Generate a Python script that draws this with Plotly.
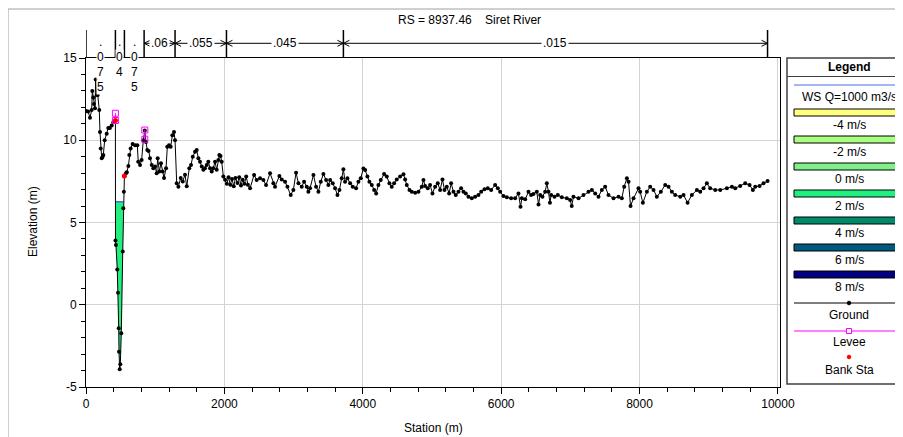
import numpy as np
import plotly.graph_objects as go

# Perfil del terreno (estación m, elevación m)
ground_sta = [0, 30, 58, 82, 91, 105, 115, 130, 140, 155, 170, 192, 202, 213, 227, 240, 250, 270, 299, 322,
              345, 371, 395, 425, 426, 433, 452, 463, 473, 477, 487, 496, 510, 531, 539, 547, 555, 578, 590, 612,
              626, 645, 674, 708, 742, 755, 781, 804, 828, 850, 867, 886, 904, 925, 950, 973, 998, 1022, 1036, 1060,
              1084, 1109, 1128, 1157, 1175, 1200, 1224, 1248, 1272, 1287, 1311, 1335, 1369, 1398, 1431, 1456, 1493, 1518, 1543, 1576,
              1600, 1624, 1648, 1673, 1696, 1720, 1745, 1768, 1793, 1817, 1840, 1865, 1889, 1913, 1927, 1944, 1961, 1985, 2010, 2035,
              2060, 2085, 2110, 2135, 2160, 2190, 2215, 2240, 2265, 2290, 2315, 2340, 2371, 2429, 2467, 2516, 2564, 2602, 2660, 2708,
              2732, 2795, 2829, 2877, 2911, 2959, 2997, 3036, 3070, 3118, 3152, 3190, 3214, 3238, 3287, 3325, 3359, 3393, 3431, 3470,
              3503, 3528, 3566, 3600, 3634, 3663, 3696, 3720, 3744, 3778, 3817, 3855, 3903, 3937, 3971, 4009, 4034, 4067, 4096, 4130,
              4164, 4193, 4226, 4260, 4308, 4347, 4385, 4419, 4453, 4491, 4540, 4588, 4612, 4636, 4675, 4708, 4757, 4805, 4853, 4877,
              4901, 4940, 4973, 5007, 5046, 5084, 5118, 5152, 5181, 5214, 5248, 5277, 5311, 5344, 5383, 5421, 5455, 5489, 5527, 5576,
              5624, 5672, 5711, 5759, 5807, 5855, 5913, 5952, 5985, 6033, 6082, 6144, 6202, 6250, 6280, 6299, 6347, 6395, 6433, 6467,
              6515, 6540, 6564, 6597, 6636, 6660, 6684, 6705, 6723, 6771, 6819, 6877, 6949, 6997, 7020, 7045, 7118, 7190, 7262, 7311,
              7359, 7407, 7455, 7503, 7551, 7624, 7696, 7744, 7778, 7817, 7841, 7870, 7913, 7985, 8009, 8048, 8106, 8154, 8202, 8250,
              8308, 8371, 8419, 8467, 8515, 8588, 8636, 8694, 8756, 8829, 8877, 8925, 8973, 9021, 9094, 9166, 9262, 9335, 9383, 9455,
              9527, 9590, 9638, 9672, 9735, 9792, 9850]
ground_elev = [11.78, 11.75, 11.37, 11.84, 13.0, 12.6, 12.2, 11.95, 13.7, 12.75, 12.75, 11.84, 10.5, 9.5, 8.9, 9.0, 9.1, 10.0, 10.4, 10.75,
               10.75, 10.9, 11.1, 11.2, 3.9, 3.63, 2.15, 0.73, -1.43, -2.85, -3.92, -3.62, -1.74, 3.23, 5.86, 6.87, 7.83, 8.0, 8.05, 8.43,
               9.1, 9.5, 9.77, 9.7, 9.7, 8.7, 8.5, 8.8, 10.0, 10.6, 9.9, 9.4, 9.35, 8.9, 8.5, 8.3, 8.4, 8.0, 8.9, 8.1,
               8.6, 8.1, 7.7, 8.3, 9.6, 9.7, 9.6, 10.3, 10.5, 10.0, 7.38, 7.18, 7.7, 7.5, 7.9, 7.2, 8.3, 8.5, 9.0, 9.3,
               9.4, 8.9, 8.7, 8.4, 8.2, 8.3, 8.5, 8.7, 8.3, 8.1, 8.3, 8.7, 8.2, 8.8, 9.1, 9.05, 8.7, 7.8, 7.6, 7.35,
               7.75, 7.3, 7.65, 7.2, 7.7, 7.4, 7.75, 7.25, 7.6, 7.35, 7.8, 7.3, 7.08, 7.89, 7.58, 7.69, 7.58, 7.28, 7.99, 7.38,
               7.18, 7.83, 7.62, 7.48, 7.18, 6.67, 6.98, 8.03, 7.38, 7.18, 7.48, 7.18, 6.87, 7.08, 7.89, 7.18, 6.87, 7.48, 7.95, 7.58,
               7.28, 7.58, 7.38, 7.08, 6.67, 6.98, 7.69, 8.23, 7.48, 7.69, 7.38, 7.18, 7.08, 7.48, 7.69, 8.29, 8.19, 7.79, 7.48, 7.28,
               6.98, 6.77, 7.28, 7.58, 7.95, 7.79, 7.38, 7.18, 7.38, 7.62, 7.79, 7.93, 7.62, 7.28, 6.98, 6.87, 6.81, 6.87, 7.18, 7.58,
               7.22, 7.08, 7.28, 6.77, 7.18, 7.38, 6.98, 7.62, 6.98, 7.18, 6.77, 7.38, 6.87, 6.67, 6.87, 7.08, 6.87, 6.77, 6.57, 6.47,
               6.57, 6.67, 6.87, 7.02, 7.08, 6.98, 7.28, 7.08, 6.87, 6.61, 6.53, 6.47, 6.47, 6.77, 5.95, 6.47, 6.41, 6.87, 6.67, 6.73,
               6.87, 6.1, 6.67, 6.57, 6.87, 7.38, 6.87, 6.2, 6.67, 6.57, 6.67, 6.53, 6.47, 6.37, 6.0, 6.57, 6.47, 6.67, 6.87, 6.98,
               6.77, 6.57, 6.98, 7.18, 6.67, 6.47, 6.57, 6.47, 7.18, 7.69, 7.48, 6.0, 6.47, 7.08, 6.87, 6.2, 6.87, 7.18, 6.98, 6.57,
               6.87, 7.28, 7.18, 6.87, 6.67, 6.57, 6.67, 6.2, 6.67, 6.98, 6.87, 7.08, 7.38, 7.08, 6.98, 6.98, 7.08, 7.18, 7.08, 7.22,
               7.38, 7.28, 6.98, 7.18, 7.22, 7.38, 7.52]

ws_elev = 6.26
bank_sta = [425, 555]
bank_elev = [11.2, 7.83]
levee_sta = [425, 425, None, 850, 850]
levee_elev = [11.2, 11.64, None, 10.06, 10.62]

# Coeficientes de Manning
n_sta = [0, 425, 555, 840, 1287, 2030, 3720, 9850]
n_val = ['.075', '.04', '.075', '.06', '.055', '.045', '.015']

velocity_labels = ['-4 m/s', '-2 m/s', '0 m/s', '2 m/s', '4 m/s', '6 m/s', '8 m/s']
velocity_colors = ['#FFFF80', '#A8FF80', '#80F088', '#20F080', '#008A6A', '#005A80', '#000080']

x_ticks = [0, 2000, 4000, 6000, 8000, 10000]
x_ticktext = ['0', '2000', '4000', '6000', '8000', '10000']
y_ticks = [-5, 0, 5, 10, 15]
y_ticktext = ['-5', '0', '5', '10', '15']

FONT = 'Arial, Liberation Sans, sans-serif'
OFF = 8                     # margen del body de la página
W, H = 903 - OFF, 437 - OFF
L, R, T, B = 86, 780, 58, 387   # área del gráfico en la pantalla
X_MAX = 10030


def px_x(px):
    return (px - L) / (R - L)


def px_y(py):
    return (B - py) / (B - T)


px_per_m = (R - L) / X_MAX

# Área mojada del cauce: puntos bajo la lámina de agua + cruces
sta = np.array(ground_sta, dtype=float)
el = np.array(ground_elev, dtype=float)
i0 = int(np.searchsorted(sta, bank_sta[0]))
i1 = int(np.searchsorted(sta, bank_sta[1]))
poly_x, poly_y = [], []
for i in range(i0, i1):
    a, b = el[i], el[i + 1]
    if a <= ws_elev:
        poly_x.append(sta[i]); poly_y.append(a)
    if (a - ws_elev) * (b - ws_elev) < 0:
        xc = sta[i] + (ws_elev - a) / (b - a) * (sta[i + 1] - sta[i])
        poly_x.append(xc); poly_y.append(ws_elev)
ws_x = [min(x for x, y in zip(poly_x, poly_y) if y == ws_elev), max(x for x, y in zip(poly_x, poly_y) if y == ws_elev)]
poly_x.append(poly_x[0]); poly_y.append(poly_y[0])

fig = go.Figure()
fig.add_trace(go.Scatter(x=poly_x, y=poly_y, fill='toself', fillcolor='#20F080', mode='lines',
                         line=dict(width=0), hoverinfo='skip'))
fig.add_trace(go.Scatter(x=ws_x, y=[ws_elev, ws_elev], mode='lines', line=dict(color='#4A6CE0', width=1.5)))
fig.add_trace(go.Scatter(x=ground_sta, y=ground_elev, mode='lines+markers',
                         line=dict(color='black', width=1), marker=dict(color='black', size=4)))
fig.add_trace(go.Scatter(x=levee_sta, y=levee_elev, mode='lines+markers',
                         line=dict(color='#FF00FF', width=1),
                         marker=dict(symbol='square-open', color='#FF00FF', size=6, line=dict(width=1))))
fig.add_trace(go.Scatter(x=bank_sta, y=bank_elev, mode='markers', marker=dict(color='#FF0000', size=5)))

shapes = []
annotations = []


def label(text, px, py, size=12, **kw):
    annotations.append(dict(x=px_x(px), y=px_y(py), xref='paper', yref='paper', text=text, showarrow=False,
                            xanchor='center', yanchor='middle',
                            font=dict(size=size, color='black', family=FONT), **kw))


# marco exterior
shapes.append(dict(type='rect', xref='paper', yref='paper', x0=px_x(8), x1=px_x(1000), y0=px_y(600), y1=px_y(9),
                   line=dict(color='#A0A0A0', width=1)))

# Manning n
y_bar0, y_bar1 = px_y(58), px_y(30)
y_arrow = px_y(43.3)
for s in n_sta:
    shapes.append(dict(type='line', xref='x', yref='paper', x0=s, x1=s, y0=y_bar0, y1=y_bar1,
                       line=dict(color='black', width=1.5)))
for i, n in enumerate(n_val):
    s0, s1 = n_sta[i], n_sta[i + 1]
    mid = (s0 + s1) / 2
    if len(n) * 6.5 + 6 > (s1 - s0) * px_per_m:
        for k, ch in enumerate(n):
            annotations.append(dict(x=mid, y=px_y(42.3 + 15 * k), xref='x', yref='paper', text=ch,
                                    showarrow=False, bgcolor='white', borderpad=0,
                                    xanchor='center', yanchor='middle',
                                    font=dict(size=12, color='black', family=FONT)))
    else:
        shapes.append(dict(type='line', xref='x', yref='paper', x0=s0, x1=s1, y0=y_arrow, y1=y_arrow,
                           line=dict(color='black', width=1)))
        annotations.append(dict(x=mid, y=y_arrow, xref='x', yref='paper', text=n, showarrow=False,
                                xanchor='center', yanchor='middle',
                                bgcolor='white', borderpad=1, font=dict(size=12, color='black', family=FONT)))
        for s, p in [(s0, 'M 6,3 L 0,0 L 6,-3'), (s1, 'M -6,3 L 0,0 L -6,-3')]:
            shapes.append(dict(type='path', xref='x', yref='paper', xsizemode='pixel', ysizemode='pixel',
                               xanchor=s, yanchor=y_arrow, path=p, line=dict(color='black', width=1)))

# título y ejes
label('RS = 8937.46\u00a0\u00a0\u00a0\u00a0Siret River', 469, 20)
label('Station (m)', 433, 428)
label('Elevation (m)', 33, 222, textangle=-90)

# leyenda
lx0, lx1, lxc = 787, 915, 849
shapes.append(dict(type='rect', xref='paper', yref='paper', x0=px_x(lx0), x1=px_x(lx1), y0=px_y(384), y1=px_y(58),
                   line=dict(color='#404040', width=1.5), fillcolor='white', layer='below'))
shapes.append(dict(type='line', xref='paper', yref='paper', x0=px_x(lx0), x1=px_x(lx1), y0=px_y(76.5), y1=px_y(76.5),
                   line=dict(color='#404040', width=1)))
label('<b>Legend</b>', lxc, 67)


def leg_line(py, color):
    shapes.append(dict(type='line', xref='paper', yref='paper', x0=px_x(794), x1=px_x(lx1), y0=px_y(py), y1=px_y(py),
                       line=dict(color=color, width=1)))


def leg_dot(py, kind, fill, color, r):
    shapes.append(dict(type=kind, xref='paper', yref='paper', xsizemode='pixel', ysizemode='pixel',
                       xanchor=px_x(lxc), yanchor=px_y(py), x0=-r, x1=r, y0=-r, y1=r,
                       fillcolor=fill, line=dict(color=color, width=1)))


leg_line(85, '#4A6CE0')
label('WS Q=1000 m3/s', lxc, 97)
for k, (lab, col) in enumerate(zip(velocity_labels, velocity_colors)):
    top = 109 + 27 * k
    shapes.append(dict(type='rect', xref='paper', yref='paper', x0=px_x(794), x1=px_x(912),
                       y0=px_y(top + 7), y1=px_y(top), fillcolor=col, line=dict(color='black', width=1)))
    label(lab, lxc, top + 16)

leg_line(303, 'black')
leg_dot(303, 'circle', 'black', 'black', 1.8)
label('Ground', lxc, 315)
leg_line(331, '#FF00FF')
leg_dot(331, 'rect', 'white', '#FF00FF', 2.5)
label('Levee', lxc, 342)
leg_dot(357, 'circle', '#FF0000', '#FF0000', 1.8)
label('Bank Sta', lxc, 370)

fig.update_layout(
    width=W, height=H,
    margin=dict(l=L - OFF, r=W + OFF - R, t=T - OFF, b=H + OFF - B),
    paper_bgcolor='white', plot_bgcolor='white',
    showlegend=False,
    font=dict(family=FONT, size=12, color='black'),
    shapes=shapes,
    annotations=annotations,
)
fig.update_xaxes(range=[0, X_MAX], tickvals=x_ticks, ticktext=x_ticktext, ticks='outside', ticklen=6,
                 tickcolor='black', automargin=False,
                 showline=True, linecolor='black', linewidth=1, mirror=True,
                 showgrid=True, gridcolor='#D3D3D3', gridwidth=1, zeroline=False,
                 minor=dict(dtick=400, ticks='outside', ticklen=4, tickcolor='black', showgrid=False),
                 tickfont=dict(size=12, color='black', family=FONT))
fig.update_yaxes(range=[-5, 15], tickvals=y_ticks, ticktext=y_ticktext, ticks='outside', ticklen=6,
                 tickcolor='black', automargin=False,
                 showline=True, linecolor='black', linewidth=1, mirror=True,
                 showgrid=True, gridcolor='#D3D3D3', gridwidth=1, zeroline=False,
                 minor=dict(dtick=1, ticks='outside', ticklen=4, tickcolor='black', showgrid=False),
                 tickfont=dict(size=12, color='black', family=FONT))

fig.write_html('out.html')
